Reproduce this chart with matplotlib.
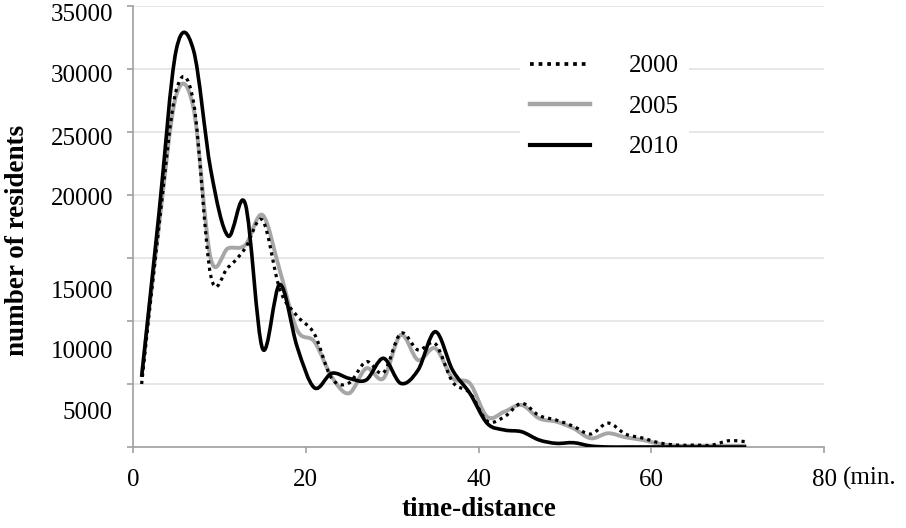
import matplotlib
matplotlib.use("Agg")
import matplotlib.pyplot as plt
from matplotlib.path import Path
from matplotlib.patches import PathPatch
from matplotlib.lines import Line2D

# time-distance (min.) and residents per band
minutes = [1, 3, 5, 7, 9, 11, 13, 15, 17, 19, 21, 23, 25, 27, 29, 31, 33, 35,
           37, 39, 41, 43, 45, 47, 49, 51, 53, 55, 57, 59, 61, 63, 65, 67, 69, 71]
res_2000 = [5000, 17500, 28300, 27400, 13600, 14260, 15770, 18000, 12500, 10400,
            8970, 5450, 5080, 6770, 5900, 9020, 7700, 8200, 5160, 4290,
            2060, 2400, 3470, 2500, 2140, 1640, 1030, 1900, 1030, 710,
            320, 150, 150, 150, 500, 420]
res_2005 = [5600, 17500, 27900, 26900, 14950, 15770, 16030, 18410, 14000, 9290,
            8360, 5580, 4260, 6240, 5450, 8890, 6900, 7830, 5450, 5050,
            2400, 2800, 3330, 2280, 2010, 1480, 690, 1090, 770, 560,
            240, 100, 100, 100, 100, 100]
res_2010 = [5560, 18500, 31500, 31500, 22000, 16750, 19300, 7800, 12900, 7960,
            4700, 5850, 5450, 5320, 7040, 5050, 6100, 9150, 6100, 4260,
            1880, 1350, 1210, 560, 290, 340, 80, 0, 0, 0,
            0, 0, 0, 0, 0, 0]

x_ticks = [0, 20, 40, 60, 80]
y_grid = [0, 5000, 10000, 15000, 20000, 25000, 30000, 35000]
y_labels = ["35000", "30000", "25000", "20000", "15000", "10000", "5000"]
# where the original chart puts the y labels (value units, they sit off the gridlines)
y_label_pos = [34290, 29440, 24440, 19680, 12330, 7560, 2700]


def smooth_path(xs, ys):
    # Excel-like smoothed line: cubic bezier through every data point
    pts = list(zip(xs, ys))
    n = len(pts)
    verts = [pts[0]]
    codes = [Path.MOVETO]
    for i in range(n - 1):
        p0 = pts[max(i - 1, 0)]
        p1 = pts[i]
        p2 = pts[i + 1]
        p3 = pts[min(i + 2, n - 1)]
        c1 = (p1[0] + (p2[0] - p0[0]) / 6, p1[1] + (p2[1] - p0[1]) / 6)
        c2 = (p2[0] - (p3[0] - p1[0]) / 6, p2[1] - (p3[1] - p1[1]) / 6)
        verts += [c1, c2, p2]
        codes += [Path.CURVE4] * 3
    return Path(verts, codes)


plt.rcParams['font.family'] = ['Liberation Serif', 'DejaVu Serif']

fig = plt.figure(figsize=(9.06, 5.28), dpi=100)
ax = fig.add_axes([133 / 906, 1 - 447 / 528, 691 / 906, 441 / 528])

gray = '#a6a6a6'
styles = {
    '2000': dict(color='black', lw=2.3, ls=(0, (1, 1.3)), z=3),
    '2005': dict(color=gray, lw=2.8, ls='-', z=2),
    '2010': dict(color='black', lw=2.6, ls='-', z=4),
}
series = {'2000': res_2000, '2005': res_2005, '2010': res_2010}

for name, vals in series.items():
    st = styles[name]
    patch = PathPatch(smooth_path(minutes, vals), facecolor='none',
                      edgecolor=st['color'], lw=st['lw'], linestyle=st['ls'],
                      capstyle='butt', joinstyle='round', zorder=st['z'])
    ax.add_patch(patch)

ax.set_xlim(0, 80)
ax.set_ylim(0, 35000)
ax.set_xticks(x_ticks)
ax.set_xticklabels([str(t) for t in x_ticks], fontsize=18)
ax.set_yticks(y_grid)
ax.set_yticklabels([])
ax.grid(axis='y', color='#e3e3e3', lw=1.2, zorder=0)
ax.set_axisbelow(True)

for s in ['top', 'right']:
    ax.spines[s].set_visible(False)
for s in ['left', 'bottom']:
    ax.spines[s].set_color('#a0a0a0')
    ax.spines[s].set_linewidth(1.2)
ax.tick_params(axis='both', direction='out', length=4.5, width=1.2, color='#a0a0a0')
ax.tick_params(axis='x', pad=11)

for lab, pos in zip(y_labels, y_label_pos):
    ax.text(-0.029, pos, lab, transform=ax.get_yaxis_transform(), ha='right',
            va='center', fontsize=18)

fig.text(843 / 906, 1 - 478 / 528, '(min.', fontsize=18, va='center', ha='left')
fig.text(479 / 906, 1 - 509 / 528, 'time-distance', fontsize=19.5, fontweight='bold',
         ha='center', va='center')
fig.text(18 / 906, 1 - 240 / 528, 'number of residents', fontsize=19.5, fontweight='bold',
         rotation=90, ha='center', va='center')

handles = [Line2D([], [], color=styles[k]['color'], lw=styles[k]['lw'] + 0.4,
                  ls=styles[k]['ls']) for k in series]
leg = ax.legend(handles, list(series), loc='upper left', bbox_to_anchor=(0.542, 0.94),
                fontsize=18, frameon=True, fancybox=False, edgecolor='none',
                facecolor='white', framealpha=1, handlelength=2.4,
                handletextpad=1.55, labelspacing=0.72, borderpad=0.4)

fig.savefig('out.png', dpi=100)
